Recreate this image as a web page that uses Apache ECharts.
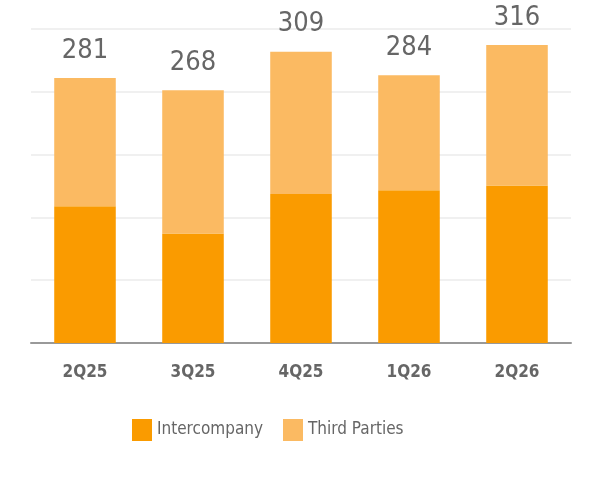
<!DOCTYPE html>
<html>
<head>
<meta charset="utf-8">
<script src="https://cdn.jsdelivr.net/npm/echarts@6/dist/echarts.min.js"></script>
<style>
  html, body { margin: 0; padding: 0; background: #fff; }
  #main { width: 600px; height: 480px; }
</style>
</head>
<body>
<div id="main"></div>
<script>
var quarters = ['2Q25', '3Q25', '4Q25', '1Q26', '2Q26'];
var intercompany = [145, 116, 158, 162, 167];
var thirdParties = [136, 152, 151, 122, 149];
var totals = [281, 268, 309, 284, 316];

var fontName = '"Liberation Sans Narrow", "DejaVu Sans Condensed", sans-serif';

var chart = echarts.init(document.getElementById('main'));

var option = {
    animation: false,
    grid: {
        left: 31,
        right: 29,
        top: 29,
        bottom: 137
    },
    legend: {
        left: 127,
        top: 414,
        itemWidth: 20,
        itemHeight: 22,
        itemGap: 20,
        icon: 'rect',
        textStyle: {
            fontFamily: fontName,
            fontSize: 17,
            color: '#666'
        },
        data: ['Intercompany', 'Third Parties']
    },
    xAxis: {
        type: 'category',
        data: quarters,
        axisTick: { show: false },
        axisLine: { lineStyle: { color: '#999', width: 2 } },
        axisLabel: {
            margin: 21,
            fontFamily: fontName,
            fontWeight: 'bold',
            fontSize: 17,
            color: '#666'
        }
    },
    yAxis: {
        type: 'value',
        min: 0,
        max: 333,
        interval: 66.6,
        axisLabel: { show: false },
        axisLine: { show: false },
        axisTick: { show: false },
        splitLine: { lineStyle: { color: '#ebebeb', width: 1.5 } }
    },
    series: [
        {
            name: 'Intercompany',
            type: 'bar',
            stack: 'total',
            barWidth: '57%',
            itemStyle: { color: '#FA9B00' },
            data: intercompany
        },
        {
            name: 'Third Parties',
            type: 'bar',
            stack: 'total',
            itemStyle: { color: '#FBBA62' },
            label: {
                show: true,
                position: 'top',
                distance: 14,
                fontFamily: fontName,
                fontSize: 27,
                color: '#666',
                formatter: function (p) {
                    return totals[p.dataIndex];
                }
            },
            data: thirdParties
        }
    ]
};

chart.setOption(option);
</script>
</body>
</html>
